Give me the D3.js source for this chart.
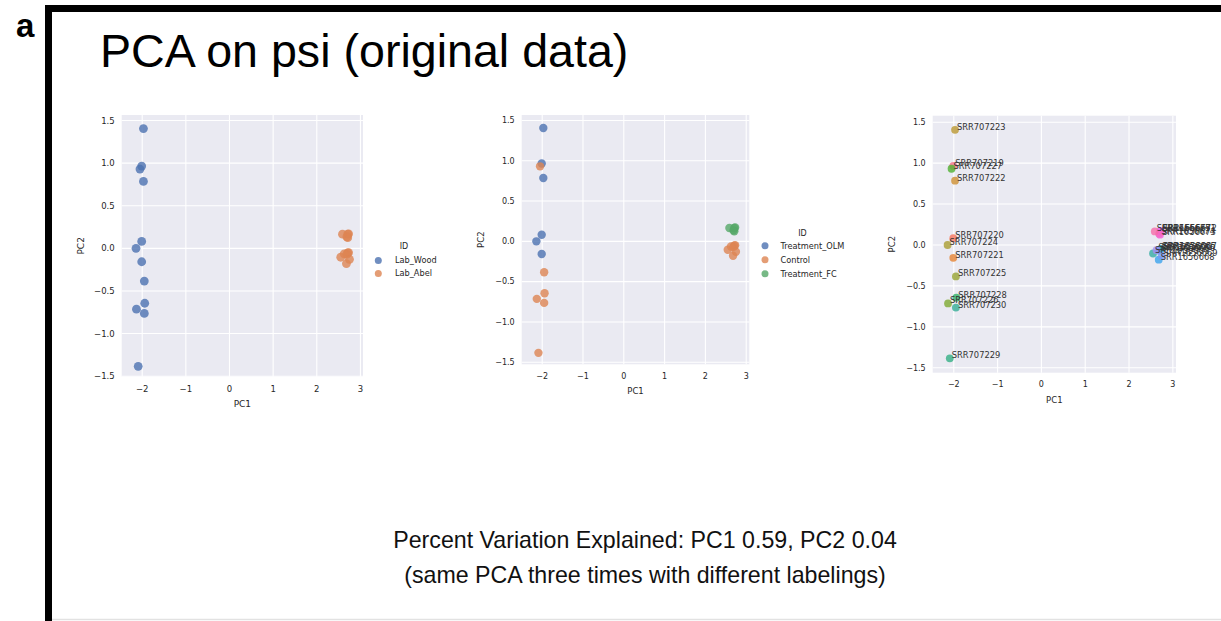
<!DOCTYPE html>
<html><head><meta charset="utf-8">
<script src="https://cdn.jsdelivr.net/npm/d3@7"></script>
<style>body{margin:0;background:#fff}</style>
</head><body>
<svg id="c" width="1221" height="621"></svg>
<script>
// ---------------- data ----------------
const sampleIds = ["SRR707219","SRR707220","SRR707221","SRR707222","SRR707223","SRR707224",
  "SRR707225","SRR707226","SRR707227","SRR707228","SRR707229","SRR707230",
  "SRR1656664","SRR1656665","SRR1656666","SRR1656667","SRR1656668","SRR1656669","SRR1656670",
  "SRR1656671","SRR1656672","SRR1656673","SRR1656674","SRR1656675"];
const pc1Values = [-2.00,-2.00,-2.00,-1.96,-1.96,-2.13,
  -1.94,-2.12,-2.04,-1.93,-2.08,-1.94,
  2.56,2.72,2.70,2.74,2.69,2.76,2.64,
  2.72,2.74,2.72,2.70,2.60];
const pc2Values = [0.96,0.076,-0.163,0.78,1.40,-0.006,
  -0.39,-0.72,0.925,-0.65,-1.39,-0.77,
  -0.11,-0.06,-0.075,-0.055,-0.185,-0.135,-0.07,
  0.16,0.165,0.12,0.13,0.16];
const labGroups = ["Lab_Wood","Lab_Wood","Lab_Wood","Lab_Wood","Lab_Wood","Lab_Wood",
  "Lab_Wood","Lab_Wood","Lab_Wood","Lab_Wood","Lab_Wood","Lab_Wood",
  "Lab_Abel","Lab_Abel","Lab_Abel","Lab_Abel","Lab_Abel","Lab_Abel","Lab_Abel",
  "Lab_Abel","Lab_Abel","Lab_Abel","Lab_Abel","Lab_Abel"];
const treatmentGroups = ["Treatment_OLM","Treatment_OLM","Treatment_OLM","Treatment_OLM","Treatment_OLM","Treatment_OLM",
  "Control","Control","Control","Control","Control","Control",
  "Control","Control","Control","Control","Control","Control","Control",
  "Treatment_FC","Treatment_FC","Treatment_FC","Treatment_FC","Treatment_FC"];
const labCategories = ["Lab_Wood","Lab_Abel"];
const treatmentCategories = ["Treatment_OLM","Control","Treatment_FC"];
const xTicks = [-2,-1,0,1,2,3];
const yTicks = [-1.5,-1.0,-0.5,0.0,0.5,1.0,1.5];
const panelLetter = "a";
const titleText = "PCA on psi (original data)";
const captionLines = ["Percent Variation Explained: PC1 0.59, PC2 0.04",
  "(same PCA three times with different labelings)"];

// ---------------- colours ----------------
const deep = ["#4C72B0","#DD8452","#55A868"];
const M = [[3.240969941904521,-1.537383177570093,-0.498610760293],
           [-0.96924363628087,1.87596750150772,0.041555057407175],
           [0.055630079696993,-0.20397695888897,1.056971514242878]];
const refU=0.19783000664283, refV=0.46831999493879, kappa=903.2962962, eps=0.0088564516;
function bounds(L){const r=[];const sub1=Math.pow(L+16,3)/1560896;const sub2=sub1>eps?sub1:L/kappa;
  for(let c=0;c<3;c++){const [m1,m2,m3]=M[c];for(let t=0;t<2;t++){
    const top1=(284517*m1-94839*m3)*sub2;
    const top2=(838422*m3+769860*m2+731718*m1)*L*sub2-769860*t*L;
    const bottom=(632260*m3-126452*m2)*sub2+126452*t;
    r.push([top1/bottom,top2/bottom]);}}return r;}
function maxChroma(L,H){const hr=H/360*Math.PI*2;let mn=Infinity;
  for(const [s,i] of bounds(L)){const len=i/(Math.sin(hr)-s*Math.cos(hr));if(len>=0)mn=Math.min(mn,len);}return mn;}
function huslToHex(H,S,L){
  const C=maxChroma(L,H)/100*S;const hr=H/180*Math.PI;
  const U=Math.cos(hr)*C,V=Math.sin(hr)*C;
  const Y=L<=8?L/kappa:Math.pow((L+16)/116,3);
  const varU=U/(13*L)+refU,varV=V/(13*L)+refV;
  const X=0-(9*Y*varU)/((varU-4)*varV-varU*varV);
  const Z=(9*Y-15*varV*Y-varV*X)/(3*varV);
  const rgb=M.map(m=>{const c=m[0]*X+m[1]*Y+m[2]*Z;return c<=0.0031308?12.92*c:1.055*Math.pow(c,1/2.4)-0.055;});
  return d3.rgb(...rgb.map(v=>Math.round(Math.max(0,Math.min(1,v))*255))).formatHex();}
const n=sampleIds.length;
const huslPalette=d3.range(n).map(i=>huslToHex(((i/n+0.01)%1)*359,0.9*99,0.65*99));

// ---------------- drawing ----------------
const svg=d3.select("#c");
svg.append("rect").attr("width",1221).attr("height",621).attr("fill","#fff");
// frame
svg.append("rect").attr("x",45).attr("y",5).attr("width",1176).attr("height",7).attr("fill","#000");
svg.append("rect").attr("x",45).attr("y",5).attr("width",7).attr("height",616).attr("fill","#000");
svg.append("line").attr("x1",52).attr("x2",1221).attr("y1",619.5).attr("y2",619.5).attr("stroke","#e2e2e2").attr("stroke-width",1.5);

svg.append("text").attr("x",16).attr("y",37).attr("font-family","Liberation Sans, Arial, sans-serif")
  .attr("font-weight","bold").attr("font-size",33).text(panelLetter);
svg.append("text").attr("x",100).attr("y",67).attr("font-family","Liberation Sans, Arial, sans-serif")
  .attr("font-size",46.6).attr("fill","#000").text(titleText);
svg.selectAll("text.cap").data(captionLines).join("text").attr("class","cap")
  .attr("x",645).attr("y",(d,i)=>548+i*35).attr("text-anchor","middle")
  .attr("font-family","Liberation Sans, Arial, sans-serif").attr("font-size",23.2).attr("fill","#111").text(d=>d);

const rows=sampleIds.map((id,i)=>({id,i,x:pc1Values[i],y:pc2Values[i],lab:labGroups[i],trt:treatmentGroups[i]}));
const FONT="DejaVu Sans, Arial, sans-serif";
const panels=[
  {rect:[121.7,363,115,376.7],xd:[-2.458,3.07],yd:[-1.512,1.559],r:4.4,fs:8.5,
   color:d=>deep[labCategories.indexOf(d.lab)],
   legend:{cats:labCategories,cols:deep,tx:404,ty:248.5,cx:378.3,lx:395,y0:260.5,dy:13}},
  {rect:[521.7,749.3,115,364.3],xd:[-2.49,3.088],yd:[-1.532,1.562],r:4.2,fs:8,
   color:d=>deep[treatmentCategories.indexOf(d.trt)],
   legend:{cats:treatmentCategories,cols:deep,tx:802.5,ty:236,cx:765,lx:780.5,y0:245.8,dy:14}},
  {rect:[932.7,1176,115.7,372.7],xd:[-2.47,3.084],yd:[-1.566,1.573],r:3.9,fs:8,
   color:d=>huslPalette[d.i], annotate:true}
];

panels.forEach(p=>{
  const [x0,x1,y0,y1]=p.rect;
  const x=d3.scaleLinear().domain(p.xd).range([x0,x1]);
  const y=d3.scaleLinear().domain(p.yd).range([y1,y0]);
  const g=svg.append("g");
  g.append("rect").attr("x",x0).attr("y",y0).attr("width",x1-x0).attr("height",y1-y0).attr("fill","#EAEAF2");
  const ax=g.append("g").attr("transform",`translate(0,${y1})`)
    .call(d3.axisBottom(x).tickValues(xTicks).tickFormat(d3.format("d")).tickSize(-(y1-y0)).tickPadding(9));
  const ay=g.append("g").attr("transform",`translate(${x0},0)`)
    .call(d3.axisLeft(y).tickValues(yTicks).tickFormat(d3.format(".1f")).tickSize(-(x1-x0)).tickPadding(7));
  [ax,ay].forEach(a=>{
    a.select(".domain").remove();
    a.selectAll(".tick line").attr("stroke","#fff").attr("stroke-width",1.1);
    a.selectAll(".tick text").attr("fill","#262626").attr("font-family",FONT).attr("font-size",p.fs);
  });
  ay.selectAll(".tick text").attr("dy","0.35em");
  ax.selectAll(".tick text").attr("dy","0.71em");
  g.append("text").attr("x",(x0+x1)/2).attr("y",y1+30).attr("text-anchor","middle")
    .attr("font-family",FONT).attr("font-size",p.fs+0.5).attr("fill","#262626").text("PC1");
  g.append("text").attr("transform",`translate(${x0-38},${(y0+y1)/2}) rotate(-90)`).attr("text-anchor","middle")
    .attr("font-family",FONT).attr("font-size",p.fs+0.5).attr("fill","#262626").text("PC2");
  g.append("g").selectAll("circle").data(rows).join("circle")
    .attr("cx",d=>x(d.x)).attr("cy",d=>y(d.y)).attr("r",p.r)
    .attr("fill",p.color).attr("fill-opacity",0.8);
  if(p.annotate){
    g.append("g").selectAll("text").data(rows).join("text")
      .attr("x",d=>x(d.x)+2).attr("y",d=>y(d.y)).attr("font-family",FONT).attr("font-size",8.3)
      .attr("fill","#333").text(d=>d.id);
  }
  if(p.legend){
    const L=p.legend;
    g.append("text").attr("x",L.tx).attr("y",L.ty).attr("text-anchor","middle")
      .attr("font-family",FONT).attr("font-size",8).attr("fill","#262626").text("ID");
    L.cats.forEach((c,i)=>{
      g.append("circle").attr("cx",L.cx).attr("cy",L.y0+i*L.dy).attr("r",3.5).attr("fill",L.cols[i]).attr("fill-opacity",0.8);
      g.append("text").attr("x",L.lx).attr("y",L.y0+i*L.dy).attr("dy","0.35em")
        .attr("font-family",FONT).attr("font-size",8.2).attr("fill","#262626").text(c);
    });
  }
});
</script>
</body></html>
